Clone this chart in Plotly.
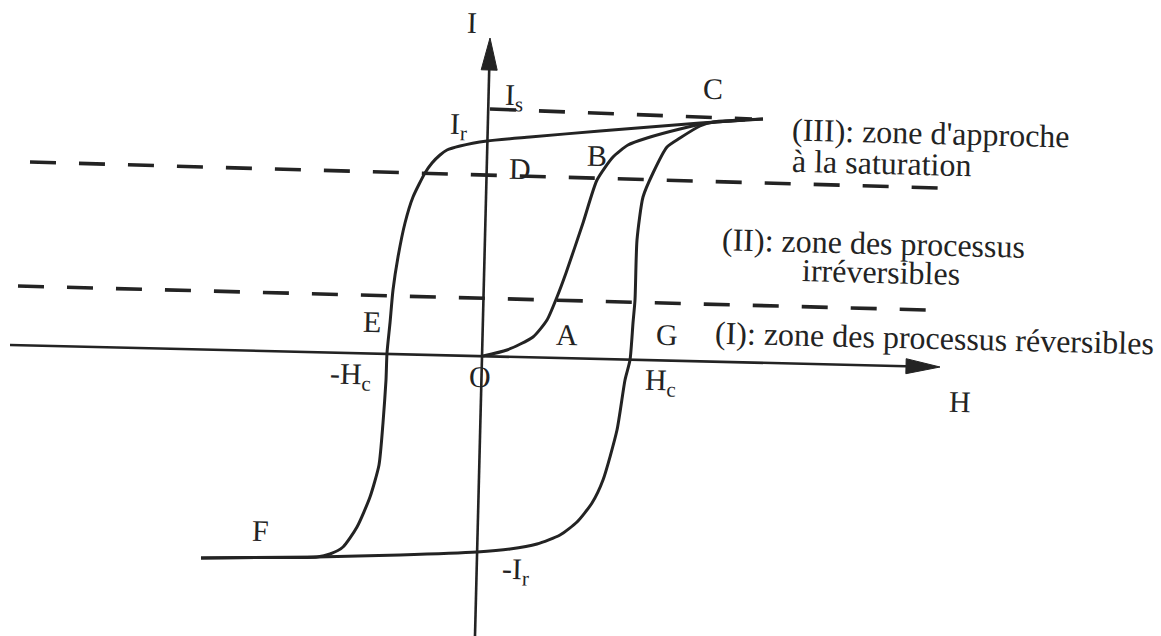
import numpy as np
import plotly.graph_objects as go

W, H = 1161, 636
INK = "#232323"
FONT = "Liberation Serif"

# everything in pixel units (x to the right, y downwards)
h_axis_x = [10, 940]
h_axis_y = [345, 367]
i_axis_x = [475, 490]
i_axis_y = [636, 38]

# descending branch of the major loop, C -> Ir -> E -> -Hc -> F
upper_x = [763, 700, 600, 530, 487, 460, 447, 440, 432, 425, 413, 405, 398, 393, 390, 387,
           386, 383, 379, 370, 357, 343, 330, 317, 260, 201]
upper_y = [119, 123, 131, 137, 141, 146, 150, 155, 163, 173, 197, 223, 257, 290, 323, 353,
           380, 423, 465, 497, 527, 547, 554, 557, 557.5, 558]

# ascending branch, F -> -Ir -> Hc -> G -> C
lower_x = [201, 317, 400, 477, 510, 537, 560, 577, 592, 603, 617, 625, 630, 633, 635, 637,
           643, 653, 667, 680, 700, 713, 763]
lower_y = [558, 557, 555, 552, 549, 544, 535, 522, 503, 480, 430, 380, 360, 323, 300, 240,
           197, 173, 147, 138, 126, 122, 119]

# first magnetisation curve O -> A -> B -> C
first_x = [483, 507, 533, 547, 557, 566, 583, 597, 613, 628, 647, 680, 707, 745]
first_y = [356, 350, 337, 320, 297, 273, 223, 180, 157, 145, 138, 129, 123, 120]

# dashed zone limits: Is, D line, E line
dash_x = [[490, 752], [30, 940], [18, 928]]
dash_y = [[109, 119], [162, 188], [286, 310]]

# point labels
label_text = ["I", "I<sub>s</sub>", "I<sub>r</sub>", "C", "B", "D", "A", "E", "G",
              "-H<sub>c</sub>", "O", "H<sub>c</sub>", "F", "-I<sub>r</sub>", "H"]
label_x = [472, 514, 458, 713, 597, 520, 567, 372, 667, 350, 480, 660, 260, 515, 960]
label_y = [22, 97, 126, 88, 155, 168, 334, 321, 334, 376, 376, 382, 530, 571, 401]

# zone captions (left aligned)
zone_text = ["(III): zone d'approche", "à la saturation", "(II): zone des processus",
             "irréversibles", "(I): zone des processus réversibles"]
zone_x = [790, 790, 720, 800, 713]
zone_y = [133, 163, 243, 272, 338]


def arrow_head(x0, y0, x1, y1, length, half):
    d = np.array([x1 - x0, y1 - y0], dtype=float)
    d /= np.hypot(*d)
    n = np.array([-d[1], d[0]])
    tip = np.array([x1, y1], dtype=float)
    base = tip - d * length
    a, b = base + n * half, base - n * half
    path = f"M {tip[0]} {tip[1]} L {a[0]} {a[1]} L {b[0]} {b[1]} Z"
    return path, base


fig = go.Figure()
shapes = []

# axes with arrows
for ax_x, ax_y, ln, hw in [(h_axis_x, h_axis_y, 34, 7.5), (i_axis_x, i_axis_y, 32, 8)]:
    path, base = arrow_head(ax_x[0], ax_y[0], ax_x[1], ax_y[1], ln, hw)
    fig.add_trace(go.Scatter(x=[ax_x[0], base[0]], y=[ax_y[0], base[1]], mode="lines",
                             line=dict(color=INK, width=2.6), hoverinfo="skip"))
    shapes.append(dict(type="path", path=path, fillcolor=INK, line=dict(color=INK, width=1),
                       xref="x", yref="y"))

for dx, dy in zip(dash_x, dash_y):
    fig.add_trace(go.Scatter(x=dx, y=dy, mode="lines",
                             line=dict(color=INK, width=3.6, dash="26px,23px"), hoverinfo="skip"))

for cx, cy in [(upper_x, upper_y), (lower_x, lower_y), (first_x, first_y)]:
    fig.add_trace(go.Scatter(x=cx, y=cy, mode="lines",
                             line=dict(color=INK, width=3, shape="spline", smoothing=0.6),
                             hoverinfo="skip"))

annotations = []
for t, x, y in zip(label_text, label_x, label_y):
    annotations.append(dict(x=x, y=y, text=t, showarrow=False, xanchor="center", yanchor="middle",
                            textangle=1.4, font=dict(family=FONT, size=30, color=INK)))
for t, x, y in zip(zone_text, zone_x, zone_y):
    annotations.append(dict(x=x, y=y, text=t, showarrow=False, xanchor="left", yanchor="middle",
                            textangle=1.4, font=dict(family=FONT, size=32, color=INK)))

fig.update_layout(
    width=W, height=H,
    margin=dict(l=0, r=0, t=0, b=0),
    paper_bgcolor="white", plot_bgcolor="white",
    showlegend=False,
    shapes=shapes,
    annotations=annotations,
    xaxis=dict(range=[0, W], visible=False, fixedrange=True),
    yaxis=dict(range=[H, 0], visible=False, fixedrange=True),
)

# the page's default body margin would push the drawing 8px off
fig.write_html("out.html", config={"displayModeBar": False},
               post_script="document.body.style.margin='0';")
